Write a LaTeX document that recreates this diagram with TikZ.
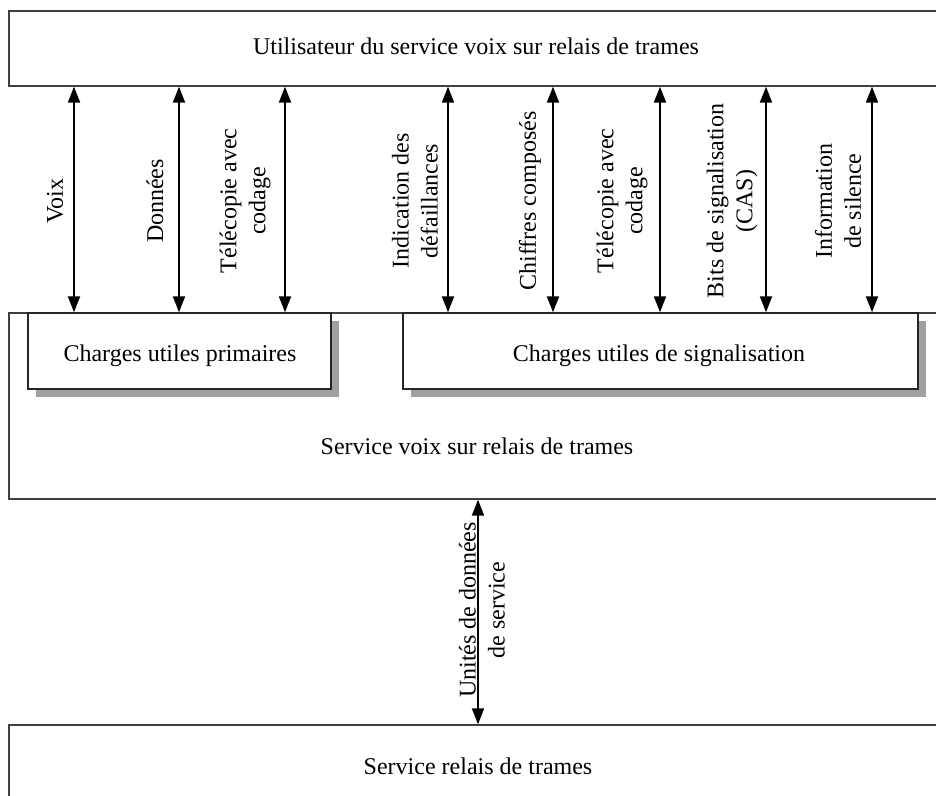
\documentclass[tikz,border=0pt]{standalone}
\usepackage{fontspec}
\setmainfont{Liberation Serif}
\usetikzlibrary{arrows.meta,fit,shadows}
\definecolor{edge}{HTML}{404040}
\definecolor{shade}{HTML}{A0A0A0}
\tikzset{
  every node/.style={font=\fontsize{12}{14.5}\selectfont},
  layer/.style={draw=edge, line width=0.7pt, fill=white, inner sep=0pt},
  payload/.style={layer, draw=black!85,
    drop shadow={shadow xshift=4pt, shadow yshift=-4pt, fill=shade, opacity=1}},
  title/.style={anchor=base, inner sep=0pt},
  flow/.style={line width=1pt,
    {Triangle[length=8pt,width=6pt]}-{Triangle[length=8pt,width=6pt]}},
  vlabel/.style={rotate=90, align=center, inner sep=0pt},
}
\begin{document}
\begin{tikzpicture}[x=0.5pt,y=-0.5pt]
\useasboundingbox (0,0) rectangle (936,796);
\clip (0,0) rectangle (936,796);

% protocol layers
\node[layer, fit={(9,11)(946,86)}] (user) {};
\node[layer, fit={(9,313)(946,499)}] (vofr) {};
\node[payload, fit={(28,313)(331,389)}] (prim) {};
\node[payload, fit={(403,313)(918,389)}] (sig) {};
\node[layer, fit={(9,725)(946,812)}] (fr) {};

% layer titles (placed on their baselines)
\node[title] (usertext) at (476,55) {Utilisateur du service voix sur relais de trames};
\node[title] (primtext) at (180,362) {Charges utiles primaires};
\node[title] (sigtext) at (659,362) {Charges utiles de signalisation};
\node[title] (vofrtext) at (477,454) {Service voix sur relais de trames};
\node[title] (frtext) at (478,774) {Service relais de trames};

% positions of the exchange arrows
\coordinate (a1) at (74,200);
\coordinate (a2) at (179,200);
\coordinate (a3) at (285,200);
\coordinate (a4) at (448,200);
\coordinate (a5) at (553,200);
\coordinate (a6) at (660,200);
\coordinate (a7) at (766,200);
\coordinate (a8) at (872,200);
\coordinate (a9) at (478,610);

\draw[flow] (user.south -| a1) -- (vofr.north -| a1);
\draw[flow] (user.south -| a2) -- (vofr.north -| a2);
\draw[flow] (user.south -| a3) -- (vofr.north -| a3);
\draw[flow] (user.south -| a4) -- (vofr.north -| a4);
\draw[flow] (user.south -| a5) -- (vofr.north -| a5);
\draw[flow] (user.south -| a6) -- (vofr.north -| a6);
\draw[flow] (user.south -| a7) -- (vofr.north -| a7);
\draw[flow] (user.south -| a8) -- (vofr.north -| a8);
\draw[flow] (vofr.south -| a9) -- (fr.north -| a9);

% arrow labels
\node[vlabel] (l1) at (55,201) {Voix};
\node[vlabel] (l2) at (155,201) {Données};
\node[vlabel] (l3) at (245,201) {Télécopie avec\\codage};
\node[vlabel] (l4) at (415,201) {Indication des\\défaillances};
\node[vlabel] (l5) at (530,201) {Chiffres composés};
\node[vlabel] (l6) at (622,201) {Télécopie avec\\codage};
\node[vlabel] (l7) at (732,201) {Bits de signalisation\\(CAS)};
\node[vlabel] (l8) at (838,201) {Information\\de silence};
\node[vlabel] (l9) at (482,610) {Unités de données\\de service};
\end{tikzpicture}
\end{document}
